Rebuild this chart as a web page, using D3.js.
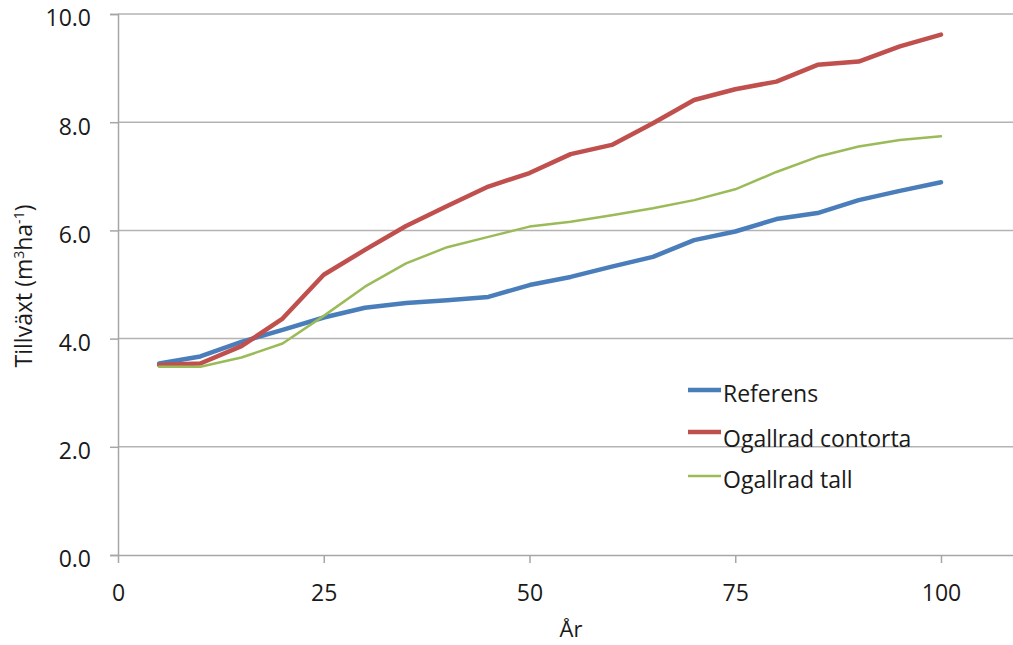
<!DOCTYPE html>
<html>
<head>
<meta charset="utf-8">
<script src="https://cdn.jsdelivr.net/npm/d3@7"></script>
<style>
  html, body { margin: 0; padding: 0; background: #fff; }
  svg { display: block; font-family: "Open Sans", "Liberation Sans", sans-serif; }
</style>
</head>
<body>
<svg id="chart" width="1013" height="645"></svg>
<script>
const years = [5, 10, 15, 20, 25, 30, 35, 40, 45, 50, 55, 60, 65, 70, 75, 80, 85, 90, 95, 100];
const referens = [3.54, 3.67, 3.94, 4.16, 4.39, 4.57, 4.66, 4.71, 4.77, 4.99, 5.14, 5.33, 5.51, 5.82, 5.98, 6.21, 6.32, 6.56, 6.73, 6.89];
const contorta = [3.51, 3.54, 3.86, 4.37, 5.18, 5.64, 6.08, 6.45, 6.81, 7.06, 7.41, 7.58, 7.98, 8.41, 8.61, 8.75, 9.06, 9.12, 9.40, 9.62];
const tall = [3.48, 3.48, 3.65, 3.91, 4.42, 4.96, 5.39, 5.69, 5.88, 6.07, 6.16, 6.28, 6.41, 6.56, 6.76, 7.08, 7.36, 7.55, 7.67, 7.74];
const xTicks = [0, 25, 50, 75, 100];
const yTicks = [0, 2, 4, 6, 8, 10];
const seriesNames = ["Referens", "Ogallrad contorta", "Ogallrad tall"];
const seriesColors = ["#4A7EBB", "#C0504D", "#9BBB59"];
const seriesWidths = [4.5, 4.5, 2.5];
const xTitle = "År";

const FS = 23;
const TXT = "#1a1a1a";
const svg = d3.select("#chart");
const mLeft = 118, mTop = 14, mBottom = 555, mRight = 1013;
const x = d3.scaleLinear().domain([0, 108.75]).range([mLeft, mRight]);
const y = d3.scaleLinear().domain([0, 10]).range([mBottom, mTop]);

// gridlines
svg.append("g").selectAll("line").data(yTicks.filter(d => d > 0)).join("line")
  .attr("x1", mLeft).attr("x2", mRight)
  .attr("y1", d => y(d)).attr("y2", d => y(d))
  .attr("stroke", "#b3b3b3").attr("stroke-width", 1.5);

// y axis
const yAxis = svg.append("g").attr("transform", `translate(${mLeft},0)`)
  .call(d3.axisLeft(y).tickValues(yTicks).tickFormat(d3.format(".1f")).tickSize(8).tickPadding(19));
yAxis.select(".domain").attr("stroke", "#a6a6a6").attr("stroke-width", 1.5);
yAxis.selectAll(".tick line").attr("stroke", "#a6a6a6").attr("stroke-width", 1.5);
yAxis.selectAll("text").attr("font-size", FS).attr("fill", TXT).attr("font-family", "Open Sans").attr("dy", "0.52em");

// x axis
const xAxis = svg.append("g").attr("transform", `translate(0,${mBottom})`)
  .call(d3.axisBottom(x).tickValues(xTicks).tickFormat(d3.format("d")).tickSizeInner(8).tickSizeOuter(0).tickPadding(22));
xAxis.select(".domain").attr("stroke", "#a6a6a6").attr("stroke-width", 1.5);
xAxis.selectAll(".tick line").attr("stroke", "#a6a6a6").attr("stroke-width", 1.5);
xAxis.selectAll("text").attr("font-size", FS).attr("fill", TXT).attr("font-family", "Open Sans");

// lines
const allSeries = [referens, contorta, tall];
const line = d3.line().x((d, i) => x(years[i])).y(d => y(d));
allSeries.forEach((s, k) => {
  svg.append("path").datum(s)
    .attr("fill", "none")
    .attr("stroke", seriesColors[k])
    .attr("stroke-width", seriesWidths[k])
    .attr("stroke-linejoin", "round")
    .attr("stroke-linecap", "round")
    .attr("d", line);
});

// legend
const legLineY = [390, 432, 476];
const legTextY = [402, 447, 488];
seriesNames.forEach((n, k) => {
  svg.append("line").attr("x1", 688).attr("x2", 721)
    .attr("y1", legLineY[k]).attr("y2", legLineY[k])
    .attr("stroke", seriesColors[k]).attr("stroke-width", seriesWidths[k]);
  svg.append("text").attr("x", 723).attr("y", legTextY[k])
    .attr("font-size", FS).attr("fill", TXT).text(n);
});

// axis titles
svg.append("text").attr("x", 571).attr("y", 637)
  .attr("text-anchor", "middle").attr("font-size", 22).attr("fill", TXT).text(xTitle);

const yt = svg.append("text")
  .attr("transform", `translate(32,286) rotate(-90)`)
  .attr("text-anchor", "middle").attr("font-size", FS).attr("fill", TXT);
yt.append("tspan").text("Tillväxt (m");
yt.append("tspan").attr("font-size", 14).attr("dy", -8).text("3");
yt.append("tspan").attr("dy", 8).text("ha");
yt.append("tspan").attr("font-size", 14).attr("dy", -8).text("-1");
yt.append("tspan").attr("dy", 8).text(")");
</script>
</body>
</html>
